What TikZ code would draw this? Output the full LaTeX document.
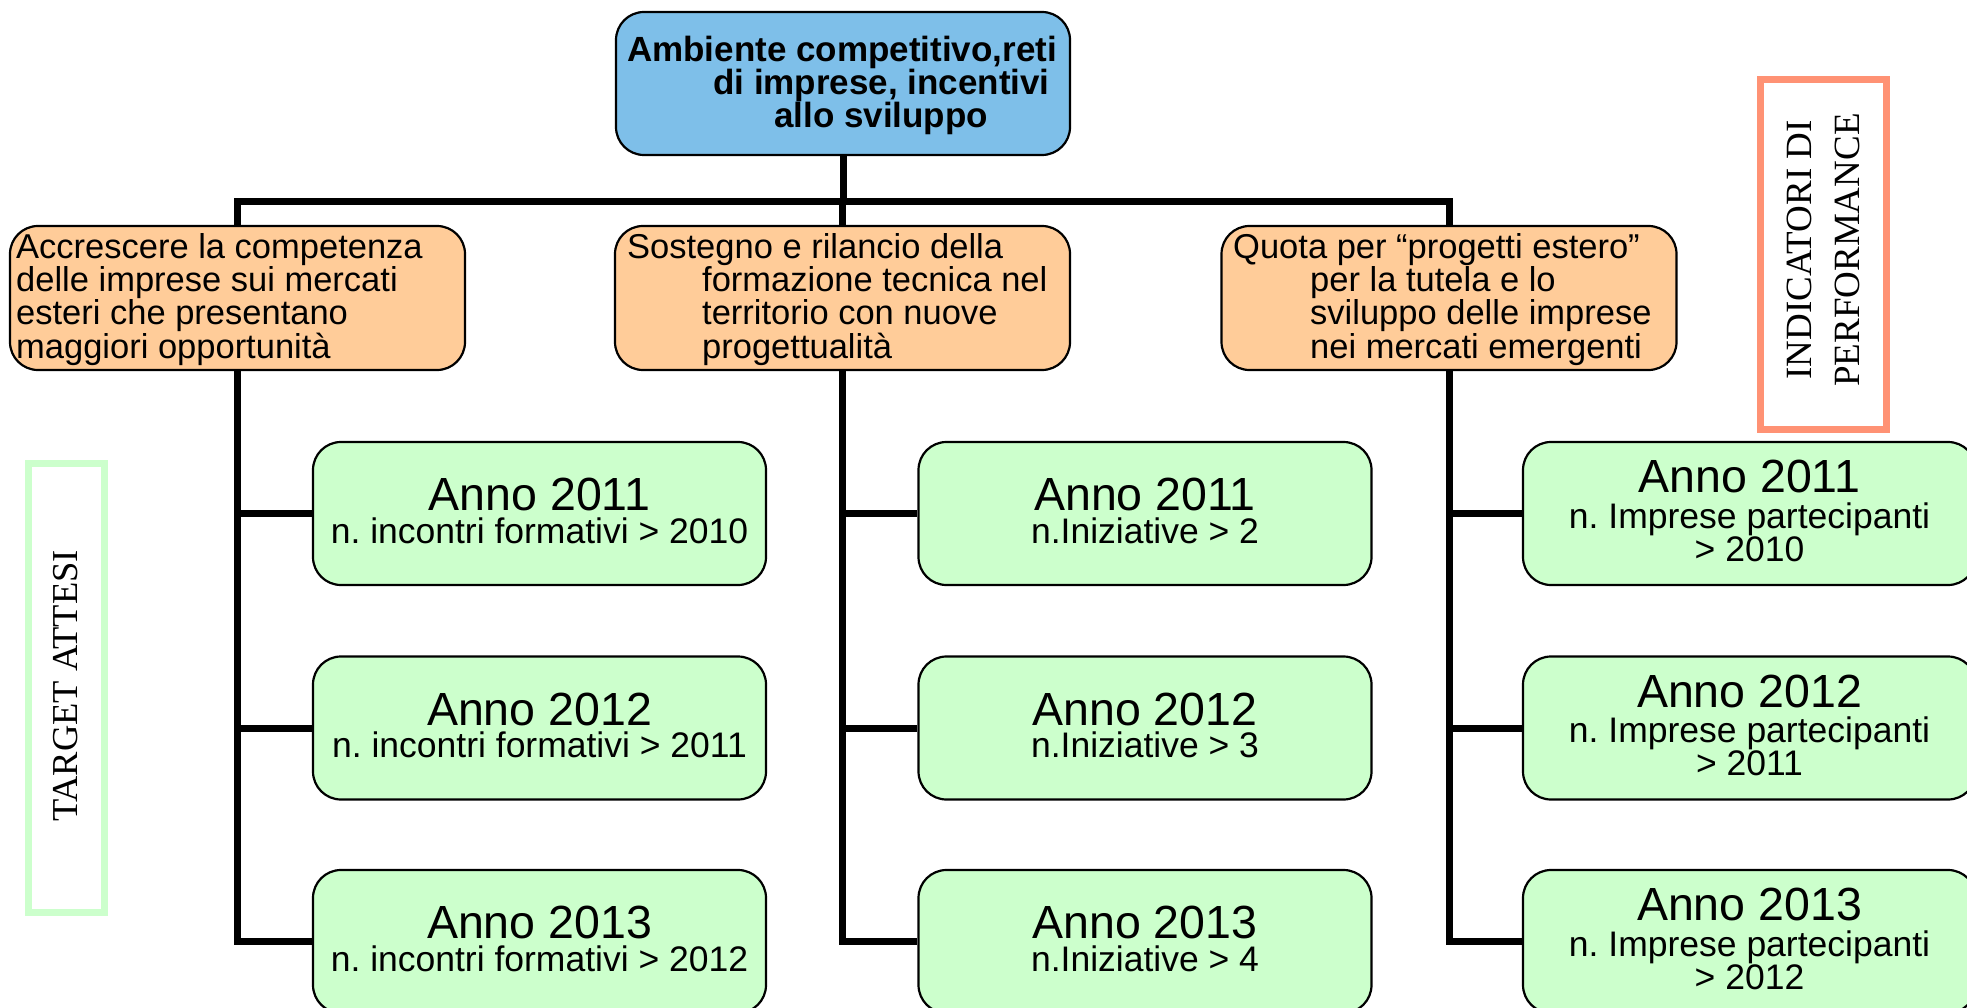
\documentclass[tikz,border=0pt]{standalone}
\usepackage{fontspec}
\setmainfont{Liberation Sans}
\newfontfamily\serifface{Liberation Serif}
\frenchspacing
\pgfdeclarelayer{lines}
\pgfsetlayers{lines,main}

\definecolor{topblue}{RGB}{126,191,233}
\definecolor{goalfill}{RGB}{255,204,153}
\definecolor{targetfill}{RGB}{204,255,204}
\definecolor{perfframe}{RGB}{255,146,116}
\definecolor{targetframe}{RGB}{204,255,204}

\tikzset{
  roundbox/.style={draw=black, line width=2.2pt, rounded corners=28pt, inner sep=0pt},
  topbox/.style={roundbox, fill=topblue, minimum width=454pt, minimum height=143pt},
  goalbox/.style={roundbox, fill=goalfill, minimum width=455pt, minimum height=144pt},
  targetbox/.style={roundbox, fill=targetfill, minimum width=453pt, minimum height=143pt},
  % multi-line texts are anchored at the baseline of their last line
  toptext/.style={inner sep=0pt, align=left, anchor=base west, font=\bfseries\fontsize{35}{33}\selectfont},
  goaltext/.style={inner sep=0pt, align=left, anchor=base west, font=\fontsize{34.5}{33.3}\selectfont},
  yeartext/.style={inner sep=0pt, anchor=base, font=\fontsize{46.5}{46}\selectfont},
  infotext/.style={inner sep=0pt, anchor=base, align=center, font=\fontsize{35.5}{33}\selectfont},
  tree/.style={line width=7pt, line join=miter, draw=black},
  sideframe/.style={line width=7pt, fill=white},
  sidetext/.style={rotate=90, inner sep=0pt, align=center}
}

\begin{document}
\begin{tikzpicture}[x=1pt, y=-1pt]
\useasboundingbox (0,0) rectangle (1967,1008);
\clip (0,0) rectangle (1967,1008);
\begin{pgfonlayer}{lines}
  \fill[white] (0,0) rectangle (1967,1008);
\end{pgfonlayer}

% heading
\node[topbox] (top) at (843,83.5) {};
\node[toptext] (topt) at (627,128)
  {Ambiente competitivo,reti\\\hspace*{86pt}di imprese, incentivi\\\hspace*{147pt}allo sviluppo};

% objectives
\node[goalbox] (g1) at (237.5,298) {};
\node[goalbox] (g2) at (842.5,298) {};
\node[goalbox] (g3) at (1449,298) {};
\node[goaltext] (g1t) at (16,358)
  {Accrescere la competenza\\delle imprese sui mercati\\esteri che presentano\\maggiori opportunità};
\node[goaltext] (g2t) at (627,358)
  {Sostegno e rilancio della\\\hspace*{75pt}formazione tecnica nel\\\hspace*{75pt}territorio con nuove\\\hspace*{75pt}progettualità};
\node[goaltext] (g3t) at (1233,358)
  {Quota per “progetti estero”\\\hspace*{77pt}per la tutela e lo\\\hspace*{77pt}sviluppo delle imprese\\\hspace*{77pt}nei mercati emergenti};

% yearly targets
\foreach \c/\x in {1/539.5, 2/1145, 3/1749.5}
  \foreach \r/\y in {1/513.5, 2/728, 3/941.5}
    \node[targetbox] (t\c\r) at (\x,\y) {};

\foreach \r/\yr/\prev in {1/2011/2010, 2/2012/2011, 3/2013/2012} {
  \node[yeartext] (y1\r) at ([yshift=3pt]t1\r.center) {Anno \yr};
  \node[infotext] (i1\r) at ([yshift=-29.5pt]t1\r.center) {n. incontri formativi > \prev};
}
\foreach \r/\yr/\n in {1/2011/2, 2/2012/3, 3/2013/4} {
  \node[yeartext] (y2\r) at ([yshift=3pt]t2\r.center) {Anno \yr};
  \node[infotext] (i2\r) at ([yshift=-29.5pt]t2\r.center) {n.Iniziative > \n};
}
\foreach \r/\yr/\prev in {1/2011/2010, 2/2012/2011, 3/2013/2012} {
  \node[yeartext] (y3\r) at ([yshift=21pt]t3\r.center) {Anno \yr};
  \node[infotext] (i3\r) at ([yshift=-47.5pt]t3\r.center) {n. Imprese partecipanti\\> \prev};
}

% side labels
\draw[sideframe, draw=targetframe] (28,463) rectangle (104,912);
\node[sidetext, font=\serifface\fontsize{36.5}{44}\selectfont] (tlab) at (66,686) {TARGET ATTESI};
\draw[sideframe, draw=perfframe] (1760.5,79.5) rectangle (1886.5,429.5);
\node[sidetext, font=\serifface\fontsize{37}{48}\selectfont] (plab) at (1823.5,250) {INDICATORI DI\\PERFORMANCE};

% connectors
\coordinate (bus) at (843,201.5);
\begin{pgfonlayer}{lines}
  \draw[tree] (top.south) -- (top.south |- bus);
  \draw[tree] (t13.west) -- (g1.center |- t13.west) -- (g1.center |- bus)
              -- (g3.center |- bus) -- (g3.center |- t33.west) -- (t33.west);
  \draw[tree] (g2.center |- bus) -- (g2.center |- t23.west) -- (t23.west);
  \foreach \c in {1,2,3}
    \foreach \r in {1,2}
      \draw[tree] (g\c.center |- t\c\r.west) -- (t\c\r.west);
\end{pgfonlayer}
\end{tikzpicture}
\end{document}
